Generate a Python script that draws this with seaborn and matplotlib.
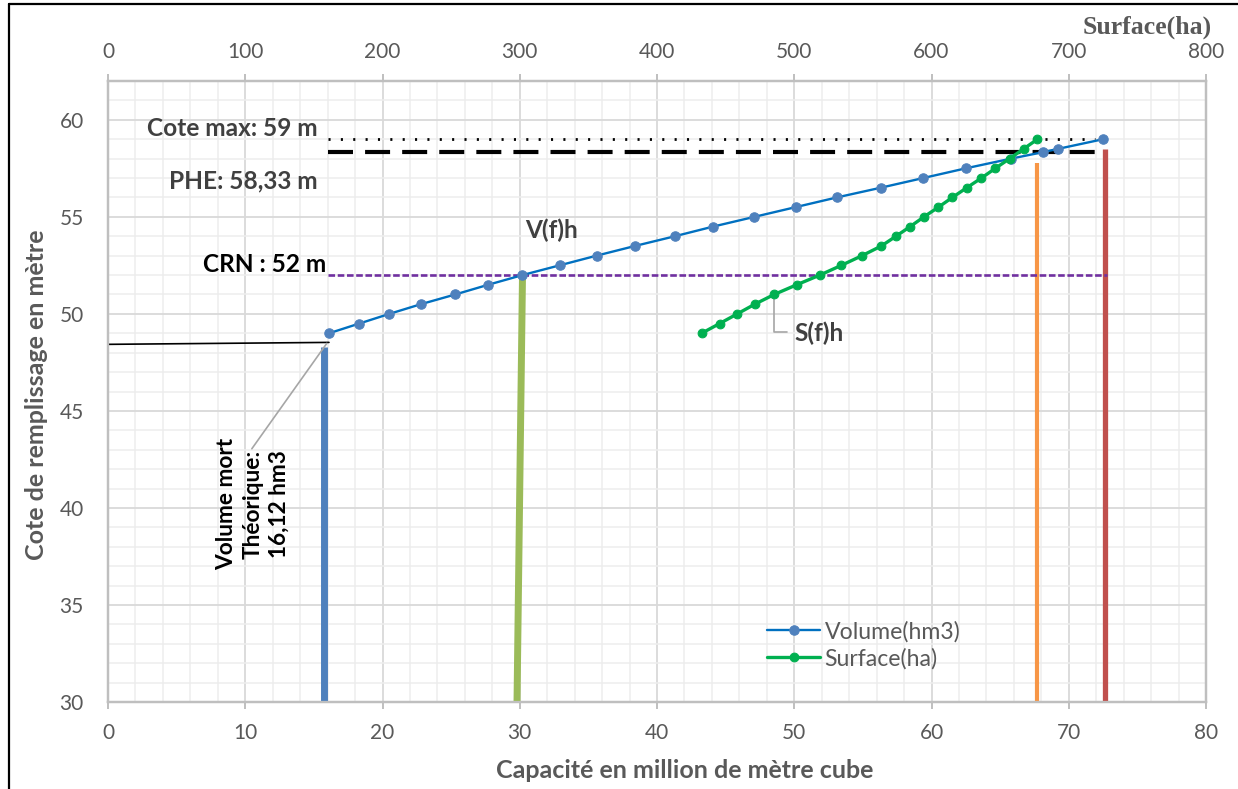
import numpy as np
import pandas as pd
import matplotlib.pyplot as plt
import seaborn as sns
from matplotlib.lines import Line2D
from matplotlib.ticker import MultipleLocator

# ---------------------------------------------------------------------------
# Donnees lues sur la courbe hauteur - capacite - surface
# ---------------------------------------------------------------------------
cotes_volume = [49, 49.5, 50, 50.5, 51, 51.5, 52, 52.5, 53, 53.5, 54, 54.5,
                55, 55.5, 56, 56.5, 57, 57.5, 58, 58.33, 58.5, 59]
volumes_hm3 = [16.1, 18.3, 20.5, 22.8, 25.3, 27.7, 30.2, 32.9, 35.6, 38.4,
               41.3, 44.1, 47.1, 50.1, 53.1, 56.3, 59.4, 62.5, 65.8, 68.1,
               69.2, 72.5]

cotes_surface = [49, 49.5, 50, 50.5, 51, 51.5, 52, 52.5, 53, 53.5, 54, 54.5,
                 55, 55.5, 56, 56.5, 57, 57.5, 58, 58.5, 59]
surfaces_ha = [432.5, 445.6, 458.5, 471.3, 485.4, 501.8, 518.7, 534.3, 549.4,
               563.5, 574.1, 584.5, 594.5, 605.1, 615.2, 625.7, 636.4, 646.5,
               656.9, 667.1, 677.2]

cote_max = 59
phe = 58.33
crn = 52
volume_mort = 16.12

GRIS_TXT = "#595959"
GRIS_FONCE = "#404040"
TAILLE_ANNOT = 17.6

df_vol = pd.DataFrame({"volume": volumes_hm3, "cote": cotes_volume})
df_surf = pd.DataFrame({"surface": surfaces_ha, "cote": cotes_surface})

sns.set_style("white")
plt.rcParams["font.family"] = ["Lato", "DejaVu Sans"]

fig = plt.figure(figsize=(12.38, 7.89), dpi=100)
ax = fig.add_axes([108 / 1238, 1 - 702 / 789, 1098 / 1238, 621 / 789])

ax.set_xlim(0, 80)
ax.set_ylim(30, 62)
ax.xaxis.set_major_locator(MultipleLocator(10))
ax.xaxis.set_minor_locator(MultipleLocator(2))
ax.yaxis.set_major_locator(MultipleLocator(5))
ax.yaxis.set_minor_locator(MultipleLocator(1))
ax.grid(which="major", color="#d9d9d9", lw=1.3)
ax.grid(which="minor", color="#ededed", lw=1.1)
ax.set_axisbelow(True)

# barres verticales
ax.plot([15.74, 15.74], [30, 48.3], color="#4f81bd", lw=5, solid_capstyle="butt", zorder=3)
ax.plot([29.8, 30.2], [30, 51.95], color="#9bbb59", lw=5, solid_capstyle="butt", zorder=3)
ax.plot([67.7, 67.7], [30, 57.75], color="#f79646", lw=3, solid_capstyle="butt", zorder=3)
ax.plot([72.67, 72.67], [30, 58.5], color="#c0504d", lw=3.8, solid_capstyle="butt", zorder=3)

# niveaux caracteristiques
ax.plot([16.0, 71.9], [cote_max, cote_max], color="black", lw=2,
        linestyle=(0, (0.75, 3.7)), zorder=4)
ax.plot([16.0, 72.5], [phe, phe], color="black", lw=3,
        linestyle=(0, (6, 2.9)), dash_capstyle="butt", zorder=4)
ax.plot([16.0, 72.8], [crn, crn], color="#7030a0", lw=1.9,
        linestyle=(0, (2.5, 1.0)), zorder=4)
ax.plot([0, 16.1], [48.43, 48.53], color="black", lw=1.2, zorder=4)

# courbe volume
sns.lineplot(data=df_vol, x="volume", y="cote", ax=ax, sort=False,
             color="#0070c0", lw=1.7, marker="o", markersize=6.8,
             markerfacecolor="#4f81bd", markeredgecolor="#4f81bd", zorder=5)
ligne_vol = ax.lines[-1]

# annotations
ax.text(15.3, 59.54, "Cote max: 59 m", ha="right", va="center", fontsize=TAILLE_ANNOT,
        fontweight="bold", color=GRIS_FONCE)
ax.text(15.3, 56.87, "PHE: 58,33 m", ha="right", va="center", fontsize=TAILLE_ANNOT,
        fontweight="bold", color=GRIS_FONCE)
ax.text(15.9, 52.54, "CRN : 52 m", ha="right", va="center", fontsize=TAILLE_ANNOT,
        fontweight="bold", color="black")
ax.text(32.3, 54.29, "V(f)h", ha="center", va="center", fontsize=TAILLE_ANNOT,
        fontweight="bold", color=GRIS_FONCE)
ax.text(50.0, 49.0, "S(f)h", ha="left", va="center", fontsize=TAILLE_ANNOT,
        fontweight="bold", color=GRIS_FONCE)
ax.plot([48.5, 48.5, 49.45], [50.95, 49.05, 49.05], color="#a6a6a6", lw=1.2, zorder=4)

ax.text(10.57, 40.19, "Volume mort\nThéorique:\n16,12 hm3", rotation=90,
        ha="center", va="center", multialignment="center", linespacing=1.3,
        fontsize=16.3, fontweight="bold", color="black")
ax.plot([10.48, 15.94], [43.05, 48.48], color="#a6a6a6", lw=1.2, zorder=4)

# axe secondaire : surface
ax2 = ax.twiny()
ax2.set_xlim(0, 800)
ax2.xaxis.set_major_locator(MultipleLocator(100))
sns.lineplot(data=df_surf, x="surface", y="cote", ax=ax2, sort=False,
             color="#00b050", lw=2.4, marker="o", markersize=6.3,
             markerfacecolor="#00b050", markeredgecolor="#00b050", zorder=5)
ligne_surf = ax2.lines[-1]
ax2.set_xlabel("")
ax2.set_ylabel("")
ax.set_xlabel("")
ax.set_ylabel("")

for a in (ax, ax2):
    for s in a.spines.values():
        s.set_color("#bfbfbf")
        s.set_linewidth(1.6)

ax.tick_params(axis="x", which="major", direction="out", length=5, width=1.4,
               color="#bfbfbf", labelsize=15, labelcolor=GRIS_TXT, pad=10)
ax.tick_params(axis="y", which="major", direction="out", length=6, width=1.4,
               color="#bfbfbf", labelsize=15, labelcolor=GRIS_TXT, pad=11.5)
ax.tick_params(which="minor", length=0)
ax2.tick_params(axis="x", which="major", direction="out", length=5, width=1.4,
                color="#bfbfbf", labelsize=15, labelcolor=GRIS_TXT, pad=9)

leg = ax.legend([ligne_vol, ligne_surf], ["Volume(hm3)", "Surface(ha)"],
                loc="upper left", bbox_to_anchor=(767 / 1238, 1 - 621 / 789),
                bbox_transform=fig.transFigure, frameon=False, fontsize=16.6,
                handlelength=2.3, handletextpad=0.2, labelspacing=0.22,
                borderpad=0, borderaxespad=0)
for t in leg.get_texts():
    t.set_color(GRIS_TXT)

# titres des axes
fig.text(685 / 1238, 1 - 770 / 789, "Capacité en million de mètre cube",
         ha="center", va="center", fontsize=18, fontweight="bold", color=GRIS_TXT)
fig.text(37 / 1238, 1 - 395 / 789, "Cote de remplissage en mètre", rotation=90,
         ha="center", va="center", fontsize=18, fontweight="bold", color=GRIS_TXT)
fig.text(1147 / 1238, 1 - 27 / 789, "Surface(ha)", ha="center", va="center",
         fontsize=18.5, fontweight="bold", color=GRIS_TXT,
         family=["Liberation Serif", "DejaVu Serif"])

# cadre
fig.add_artist(Line2D([9 / 1238, 9 / 1238], [0, 1 - 4 / 789], transform=fig.transFigure,
                      color="black", lw=1.6))
fig.add_artist(Line2D([9 / 1238, 1], [1 - 4 / 789, 1 - 4 / 789], transform=fig.transFigure,
                      color="black", lw=1.6))

fig.savefig("out.png", dpi=100)
